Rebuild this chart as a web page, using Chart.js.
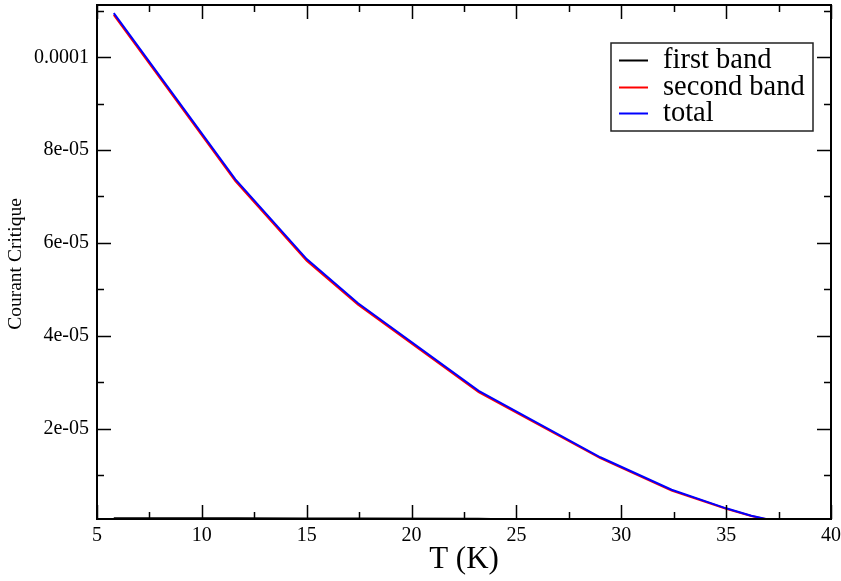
<!DOCTYPE html>
<html>
<head>
<meta charset="utf-8">
<script src="https://cdn.jsdelivr.net/npm/chart.js@4"></script>
<style>
html,body{margin:0;padding:0;background:#fff;}
#wrap{width:841px;height:581px;}
</style>
</head>
<body>
<div id="wrap"><canvas id="c" width="841" height="581"></canvas></div>
<script>
// ---- data ----
const temps = [5.8, 11.6, 15.0, 17.45, 23.2, 29.0, 32.4, 35.0, 36.2, 36.9];
const firstBand = [6.5e-7, 6.4e-7, 6.3e-7, 6.2e-7, 5.8e-7, 0, 0, 0, 0, 0];
const secondBand = [10.91e-5, 7.33e-5, 5.615e-5, 4.67e-5, 2.785e-5, 1.36e-5, 0.665e-5, 0.27e-5, 0.114e-5, 0.047e-5];
const total = [10.95e-5, 7.37e-5, 5.65e-5, 4.70e-5, 2.81e-5, 1.38e-5, 0.68e-5, 0.28e-5, 0.12e-5, 0.05e-5];
const seriesNames = ['first band', 'second band', 'total'];
const xMajor = [5, 10, 15, 20, 25, 30, 35, 40];
const xMinor = [7.5, 12.5, 17.5, 22.5, 27.5, 32.5, 37.5];
const yMajor = [2e-5, 4e-5, 6e-5, 8e-5, 1e-4];
const yMajorLabels = ['2e-05', '4e-05', '6e-05', '8e-05', '0.0001'];
const yMinor = [1e-5, 3e-5, 5e-5, 7e-5, 9e-5, 1.1e-4];
const xTitle = 'T (K)';
const yTitle = 'Courant Critique';

const FONT = '"Liberation Serif", "DejaVu Serif", serif';

const toPts = arr => temps.map((t, i) => ({x: t, y: arr[i]}));

const decor = {
  id: 'decor',
  afterDraw(chart) {
    const {ctx, chartArea: a, scales: {x, y}} = chart;
    ctx.save();
    ctx.strokeStyle = '#000';
    // ticks
    ctx.lineWidth = 1.5;
    const vt = (v, len) => {
      const p = Math.round(x.getPixelForValue(v)) + 0.5;
      ctx.beginPath();
      ctx.moveTo(p, a.bottom); ctx.lineTo(p, a.bottom - len);
      ctx.moveTo(p, a.top); ctx.lineTo(p, a.top + len);
      ctx.stroke();
    };
    const ht = (v, len) => {
      const p = Math.round(y.getPixelForValue(v)) + 0.5;
      ctx.beginPath();
      ctx.moveTo(a.left, p); ctx.lineTo(a.left + len, p);
      ctx.moveTo(a.right, p); ctx.lineTo(a.right - len, p);
      ctx.stroke();
    };
    xMajor.forEach(v => vt(v, 14));
    xMinor.forEach(v => vt(v, 7));
    yMajor.forEach(v => ht(v, 14));
    yMinor.forEach(v => ht(v, 7));
    // frame
    ctx.lineWidth = 2;
    ctx.strokeRect(a.left, a.top, a.right - a.left, a.bottom - a.top);

    // axis titles
    ctx.fillStyle = '#000';
    ctx.font = '31px ' + FONT;
    ctx.textAlign = 'center';
    ctx.textBaseline = 'alphabetic';
    ctx.fillText(xTitle, (a.left + a.right) / 2, 568);
    ctx.save();
    ctx.translate(21, 264);
    ctx.rotate(-Math.PI / 2);
    ctx.font = '19.5px ' + FONT;
    ctx.textBaseline = 'alphabetic';
    ctx.fillText(yTitle, 0, 0);
    ctx.restore();

    // legend
    const lx = 611, ly = 43, lw = 202, lh = 88;
    ctx.fillStyle = '#fff';
    ctx.fillRect(lx, ly, lw, lh);
    ctx.lineWidth = 1.5;
    ctx.strokeStyle = '#222';
    ctx.strokeRect(lx, ly, lw, lh);
    const rows = [60, 87, 113];
    ctx.font = '28.5px ' + FONT;
    ctx.textAlign = 'left';
    ctx.textBaseline = 'alphabetic';
    chart.data.datasets.forEach((ds, i) => {
      ctx.strokeStyle = ds.borderColor;
      ctx.lineWidth = 2;
      ctx.beginPath();
      ctx.moveTo(619, rows[i] + 0.5); ctx.lineTo(648, rows[i] + 0.5);
      ctx.stroke();
      ctx.fillStyle = '#000';
      ctx.fillText(ds.label, 663, rows[i] + 8);
    });
    ctx.restore();
  }
};

new Chart(document.getElementById('c'), {
  type: 'line',
  data: {
    datasets: [
      {label: seriesNames[0], data: toPts(firstBand), borderColor: '#000000', borderWidth: 2, pointRadius: 0, tension: 0, order: 2, clip: 0},
      {label: seriesNames[1], data: toPts(secondBand), borderColor: '#ff0000', borderWidth: 2, pointRadius: 0, tension: 0, order: 1},
      {label: seriesNames[2], data: toPts(total), borderColor: '#0000ff', borderWidth: 2, pointRadius: 0, tension: 0, order: 0}
    ]
  },
  options: {
    responsive: false,
    animation: false,
    devicePixelRatio: 1,
    layout: {padding: {top: 5, right: 10, left: 0, bottom: 0}},
    plugins: {legend: {display: false}, tooltip: {enabled: false}},
    scales: {
      x: {
        type: 'linear', min: 5, max: 40,
        grid: {display: false, drawTicks: false},
        border: {display: false},
        afterBuildTicks: s => { s.ticks = xMajor.map(v => ({value: v})); },
        afterFit: s => { s.height = 62; s.paddingLeft = 0; s.paddingRight = 0; },
        ticks: {
          font: {family: FONT, size: 20}, color: '#000', padding: 5,
          maxRotation: 0, autoSkip: false,
          callback: v => String(v)
        }
      },
      y: {
        type: 'linear', min: 5e-7, max: 1.1126e-4,
        grid: {display: false, drawTicks: false},
        border: {display: false},
        afterBuildTicks: s => { s.ticks = yMajor.map(v => ({value: v})); },
        afterFit: s => { s.width = 97; s.paddingTop = 0; s.paddingBottom = 0; },
        ticks: {
          font: {family: FONT, size: 20}, color: '#000', padding: 8,
          autoSkip: false,
          callback: (v) => {
            const i = yMajor.findIndex(m => Math.abs(m - v) < 1e-9);
            return i >= 0 ? yMajorLabels[i] : '';
          }
        }
      }
    }
  },
  plugins: [decor]
});
</script>
</body>
</html>
